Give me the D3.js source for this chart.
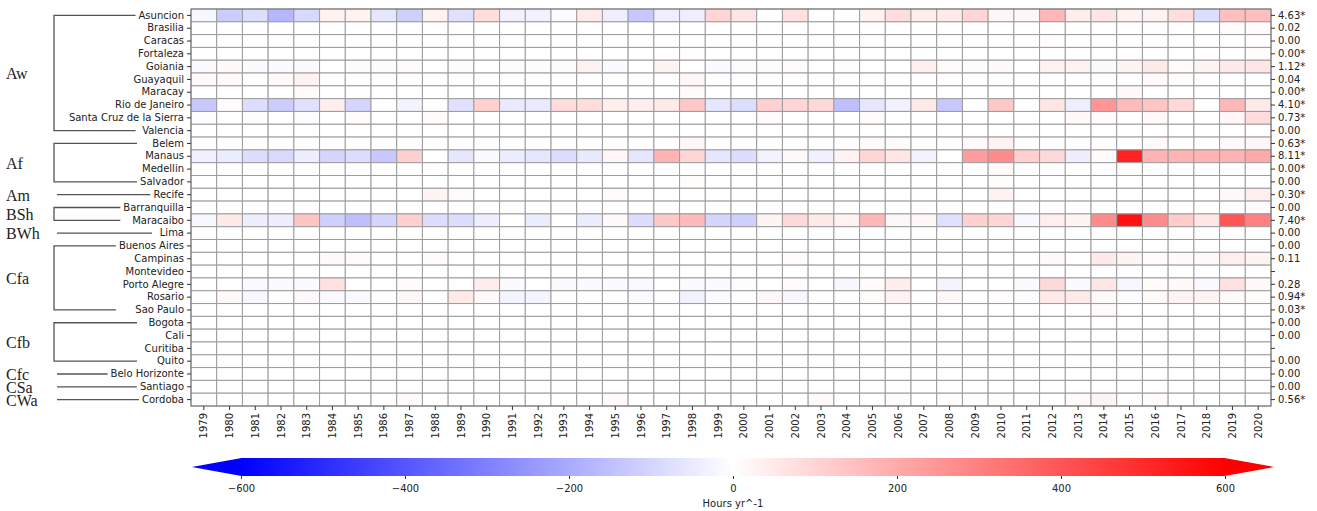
<!DOCTYPE html>
<html>
<head>
<meta charset="utf-8">
<script src="https://cdn.jsdelivr.net/npm/d3@7"></script>
<style>
  body { margin: 0; background: #fff; }
  svg text { font-family: "DejaVu Sans", sans-serif; }
  svg text.climate { font-family: "Liberation Serif", "Times New Roman", serif; }
</style>
</head>
<body>
<div id="drawing_region"></div>
<script>
// ---- data ----
const cities = ["Asuncion", "Brasilia", "Caracas", "Fortaleza", "Goiania", "Guayaquil", "Maracay",
    "Rio de Janeiro", "Santa Cruz de la Sierra", "Valencia", "Belem", "Manaus", "Medellin", "Salvador",
    "Recife", "Barranquilla", "Maracaibo", "Lima", "Buenos Aires", "Campinas", "Montevideo",
    "Porto Alegre", "Rosario", "Sao Paulo", "Bogota", "Cali", "Curitiba", "Quito",
    "Belo Horizonte", "Santiago", "Cordoba"];

const years = [1979, 1980, 1981, 1982, 1983, 1984, 1985, 1986, 1987, 1988, 1989, 1990, 1991, 1992,
    1993, 1994, 1995, 1996, 1997, 1998, 1999, 2000, 2001, 2002, 2003, 2004, 2005, 2006, 2007, 2008,
    2009, 2010, 2011, 2012, 2013, 2014, 2015, 2016, 2017, 2018, 2019, 2020];

const trendLabels = ["4.63*", "0.02", "0.00", "0.00*", "1.12*", "0.04", "0.00*", "4.10*", "0.73*", "0.00",
    "0.63*", "8.11*", "0.00*", "0.00", "0.30*", "0.00", "7.40*", "0.00", "0.00", "0.11", "",
    "0.28", "0.94*", "0.03*", "0.00", "0.00", "", "0.00", "0.00", "0.00", "0.56*"];

// climate groups: name, first row, last row
const climateGroups = [
    ["Aw", "Asuncion", "Valencia"],
    ["Af", "Belem", "Salvador"],
    ["Am", "Recife", "Recife"],
    ["BSh", "Barranquilla", "Maracaibo"],
    ["BWh", "Lima", "Lima"],
    ["Cfa", "Buenos Aires", "Sao Paulo"],
    ["Cfb", "Bogota", "Quito"],
    ["Cfc", "Belo Horizonte", "Belo Horizonte"],
    ["CSa", "Santiago", "Santiago"],
    ["CWa", "Cordoba", "Cordoba"]
];

// anomaly, hours per year, one row per city, 1979..2020
const values = [
    [-20,-120,-80,-170,-90,30,30,-60,-110,30, -70,80,-30,-30,-10,50,-40,-130,-40,-40, 100,60,0,70,5,0,30,80,40,50, 100,20,20,170,40,60,30,30,80,-80, 150,150],
    [0,0,0,0,0,0,0,0,0,0, 0,0,0,0,0,0,0,0,0,0, 0,0,0,0,0,0,0,0,0,0, 0,0,0,0,0,0,0,5,0,0, 10,10],
    [0,0,0,0,0,0,0,0,0,0, 0,0,0,0,0,0,0,0,0,0, 0,0,0,0,0,0,0,0,0,0, 0,0,0,5,0,0,0,0,0,0, 0,5],
    [0,0,0,0,0,0,0,0,0,0, 0,0,0,0,0,0,0,0,0,5, 0,0,0,0,0,0,0,0,0,0, 0,0,0,0,0,0,0,0,0,0, 0,8],
    [-10,15,-10,-10,-10,0,-8,-8,10,0, -8,0,-8,-8,-8,30,-10,0,25,0, -10,-8,-8,10,0,8,0,0,35,10, -8,15,0,30,30,-10,25,50,10,25, 50,60],
    [15,15,0,15,30,0,0,0,0,0, 0,0,0,0,0,0,0,0,0,20, 0,0,0,0,0,0,0,0,0,0, 0,0,0,0,0,0,0,10,8,0, 0,0],
    [0,0,0,0,10,0,0,0,0,0, 0,0,0,0,0,0,0,0,0,10, 0,0,0,0,0,0,0,0,0,0, 0,0,0,0,0,0,15,0,0,0, 0,0],
    [-130,5,-80,-120,-70,40,-100,0,-25,0, -70,110,-50,-50,80,80,40,40,50,130, -60,-80,110,100,90,-150,-60,-30,50,-130, 0,130,0,60,-40,250,160,140,90,0, 170,50],
    [-5,0,-5,0,-5,0,10,0,0,10, 0,0,0,0,0,0,0,0,0,0, 0,0,10,0,0,0,10,0,0,0, 0,0,0,0,15,10,0,15,0,0, 20,80],
    [0,0,0,0,0,0,0,0,0,0, 0,0,0,0,0,0,0,0,0,0, 0,0,0,0,0,0,0,0,0,0, 0,0,0,0,0,0,0,0,0,0, 0,0],
    [0,0,0,0,0,0,0,0,0,0, 0,0,0,0,0,0,0,0,0,20, 0,0,0,0,0,0,10,10,0,0, 15,30,0,0,0,0,0,15,0,0, 15,20],
    [-35,-45,-80,-90,-40,-100,-80,-130,110,0, -60,-10,-45,-60,-80,-50,20,-60,180,100, -60,-80,-30,15,-35,30,100,60,-30,0, 230,270,110,90,-40,10,520,180,180,180, 180,200],
    [0,0,0,0,0,0,0,0,0,0, 0,0,0,0,0,0,0,0,0,0, 0,0,0,0,0,0,0,0,0,0, 0,10,0,0,0,0,0,0,0,0, 0,0],
    [0,0,0,0,0,0,0,0,0,0, 0,0,0,0,0,0,0,0,0,8, 0,0,0,0,0,0,0,0,0,0, 0,8,0,0,0,0,0,0,0,0, 0,0],
    [0,0,0,0,0,0,0,0,0,25, 10,0,0,0,0,0,10,0,0,0, 0,0,0,0,0,0,0,0,0,0, 0,30,0,0,0,0,0,0,0,0, 15,40],
    [0,0,0,0,0,0,0,0,0,0, 0,0,0,0,0,0,0,0,0,0, 0,0,0,0,0,0,0,0,0,0, 0,0,0,0,0,0,0,0,0,0, 0,10],
    [-20,50,-40,-40,140,-110,-150,-100,110,-80, -80,-40,0,-45,0,-45,15,-80,130,160, -100,-110,25,90,50,30,170,20,20,-70, 110,100,-20,40,25,270,560,270,120,60, 400,300],
    [0,0,0,0,0,0,0,0,0,0, 0,0,0,0,0,0,0,0,0,0, 0,0,0,0,0,0,0,0,0,0, 0,0,0,0,0,0,0,0,0,0, 0,0],
    [0,0,0,0,0,0,0,0,0,0, 0,0,0,0,0,0,0,0,0,0, 0,0,0,0,0,0,0,0,0,0, 0,0,0,0,0,0,0,0,0,0, 0,0],
    [0,0,0,0,0,15,10,0,0,10, 0,0,0,0,0,0,0,0,0,0, 0,0,0,10,0,0,0,0,0,0, 0,0,0,15,0,50,25,10,15,15, 40,25],
    [0,0,0,0,0,0,0,0,0,0, 0,0,0,0,0,0,0,0,0,0, 0,0,0,0,0,0,0,0,0,0, 0,0,0,0,0,0,0,0,0,0, 0,0],
    [0,0,-15,-10,-10,70,0,0,10,0, 5,45,-10,0,-10,-10,-10,-15,0,-10, -10,-5,0,10,0,-20,10,45,0,-25, 0,0,-10,90,-10,60,-20,10,15,-15, 70,15],
    [0,15,-20,0,15,-15,-15,0,20,0, 50,15,-25,-25,0,0,0,-10,0,-30, -10,0,20,-20,0,0,10,30,0,20, 0,5,-5,50,50,15,-5,15,25,25, 15,10],
    [0,0,0,0,0,0,0,0,0,0, 0,0,0,0,0,0,0,0,0,0, 0,0,0,0,0,0,0,0,0,0, 0,0,0,0,0,15,0,0,0,0, 0,0],
    [0,0,0,0,0,0,0,0,0,0, 0,0,0,0,0,0,0,0,0,0, 0,0,0,0,0,0,0,0,0,0, 0,0,0,0,0,0,0,0,0,0, 0,0],
    [0,0,0,0,0,0,0,0,0,0, 0,0,0,0,0,0,0,0,0,0, 0,0,0,0,0,0,0,0,0,0, 0,0,0,0,0,0,0,0,0,0, 0,0],
    [0,0,0,0,0,0,0,0,0,0, 0,0,0,0,0,0,0,0,0,0, 0,0,0,0,0,0,0,0,0,0, 0,0,0,0,0,0,0,0,0,0, 0,0],
    [0,0,0,0,0,0,0,0,0,0, 0,0,0,0,0,0,0,0,0,0, 0,0,0,0,0,0,0,0,0,0, 0,0,0,0,0,0,0,0,0,0, 0,0],
    [0,0,0,0,0,0,0,0,0,0, 0,0,0,0,0,0,0,0,0,0, 0,0,0,0,0,0,0,0,0,0, 0,0,0,0,0,0,0,0,0,0, 0,0],
    [0,0,0,0,0,0,0,0,0,0, 0,0,0,0,0,0,0,0,0,0, 0,0,0,0,0,0,0,0,0,0, 0,0,0,0,0,0,0,0,0,0, 0,0],
    [-5,0,-5,0,0,0,0,0,10,0, 0,0,0,0,0,0,15,0,0,0, 0,0,0,0,15,0,0,10,0,8, 8,8,0,0,15,25,0,10,0,0, 0,0]
];

const colorTicks = [-600, -400, -200, 0, 200, 400, 600];

// ---- layout ----
const width = 1317, height = 511;
const heat = { left: 191, right: 1271, top: 9, bottom: 406 };
const cbar = { left: 241, right: 1225, top: 458, height: 18 };

const svg = d3.select("#drawing_region").append("svg")
    .attr("width", width)
    .attr("height", height);

const xscale = d3.scaleBand().domain(years).range([heat.left, heat.right]);
const yscale = d3.scaleBand().domain(cities).range([heat.top, heat.bottom]);
const color = d3.scaleLinear().domain([-600, 0, 600])
    .range(["#0000ff", "#ffffff", "#ff0000"]).clamp(true);

// cells
const cells = [];
values.forEach((row, i) => row.forEach((v, j) => cells.push({ city: cities[i], year: years[j], v: v })));

svg.append("g").selectAll("rect").data(cells).enter().append("rect")
    .attr("x", d => xscale(d.year))
    .attr("y", d => yscale(d.city))
    .attr("width", xscale.bandwidth())
    .attr("height", yscale.bandwidth())
    .attr("fill", d => color(d.v))
    .attr("stroke", "#9c9c9c")
    .attr("stroke-width", 1);

svg.append("rect")
    .attr("x", heat.left).attr("y", heat.top)
    .attr("width", heat.right - heat.left).attr("height", heat.bottom - heat.top)
    .attr("fill", "none").attr("stroke", "#777").attr("stroke-width", 1);

// axes
const yaxisLeft = svg.append("g")
    .attr("transform", `translate(${heat.left},0)`)
    .call(d3.axisLeft(yscale).tickSize(4).tickPadding(3));

const yaxisRight = svg.append("g")
    .attr("transform", `translate(${heat.right},0)`)
    .call(d3.axisRight(yscale).tickSize(4).tickPadding(3).tickFormat((d, i) => trendLabels[i]));

const xaxis = svg.append("g")
    .attr("transform", `translate(0,${heat.bottom})`)
    .call(d3.axisBottom(xscale).tickSize(4).tickPadding(3));

xaxis.selectAll("text")
    .attr("transform", "rotate(-90)")
    .attr("x", -7).attr("y", 0).attr("dy", "0.35em")
    .style("text-anchor", "end");

[yaxisLeft, yaxisRight, xaxis].forEach(g => {
    g.select(".domain").remove();
    g.selectAll(".tick line").attr("stroke", "#333");
    g.selectAll("text").attr("font-size", 10).attr("fill", "#222")
        .attr("font-family", null);
});

// climate group brackets on the left
const labelStart = {};
yaxisLeft.selectAll(".tick text").each(function(d) {
    labelStart[d] = heat.left - 7 - this.getComputedTextLength();
});

const dendro = svg.append("g").attr("stroke", "#555").attr("stroke-width", 1.3).attr("fill", "none");
const mid = c => yscale(c) + yscale.bandwidth() / 2;

climateGroups.forEach(([name, first, last]) => {
    const y0 = mid(first), y1 = mid(last);
    if (first === last) {
        const x1 = Math.min(labelStart[first] - 3, 152);
        dendro.append("line").attr("x1", 57).attr("x2", x1).attr("y1", y0).attr("y2", y0);
    } else {
        const x1 = Math.min(labelStart[first] - 3, labelStart[last] - 3, 137);
        dendro.append("path").attr("d", `M${x1},${y0}H54V${y1}H${x1}`);
    }
    svg.append("text")
        .attr("class", "climate")
        .attr("x", 6).attr("y", (y0 + y1) / 2 + 1)
        .attr("dy", "0.33em")
        .attr("font-size", 16)
        .attr("fill", "#222")
        .text(name);
});

// colour bar
const cscale = d3.scaleLinear().domain([-600, 600]).range([cbar.left, cbar.right]);
const grad = svg.append("defs").append("linearGradient").attr("id", "bwr");
[-600, -300, 0, 300, 600].forEach(v => {
    grad.append("stop").attr("offset", `${(v + 600) / 12}%`).attr("stop-color", color(v));
});

const ext = (cbar.right - cbar.left) * 0.05;
const cy = cbar.top + cbar.height / 2;
svg.append("rect")
    .attr("x", cbar.left).attr("y", cbar.top)
    .attr("width", cbar.right - cbar.left).attr("height", cbar.height)
    .attr("fill", "url(#bwr)");
svg.append("path")
    .attr("d", `M${cbar.left + 0.5},${cbar.top}L${cbar.left - ext},${cy}L${cbar.left + 0.5},${cbar.top + cbar.height}Z`)
    .attr("fill", color(-600));
svg.append("path")
    .attr("d", `M${cbar.right - 0.5},${cbar.top}L${cbar.right + ext},${cy}L${cbar.right - 0.5},${cbar.top + cbar.height}Z`)
    .attr("fill", color(600));

const caxis = svg.append("g")
    .attr("transform", `translate(0,${cbar.top + cbar.height})`)
    .call(d3.axisBottom(cscale).tickValues(colorTicks).tickSize(3).tickPadding(6));
caxis.select(".domain").remove();
caxis.selectAll(".tick line").attr("stroke", "#333");
caxis.selectAll("text").attr("font-size", 10).attr("fill", "#222")
    .attr("font-family", null);

svg.append("text")
    .attr("x", cscale(0)).attr("y", 507)
    .attr("text-anchor", "middle")
    .attr("font-size", 10).attr("fill", "#222")
    .text("Hours yr^-1");
</script>
</body>
</html>
